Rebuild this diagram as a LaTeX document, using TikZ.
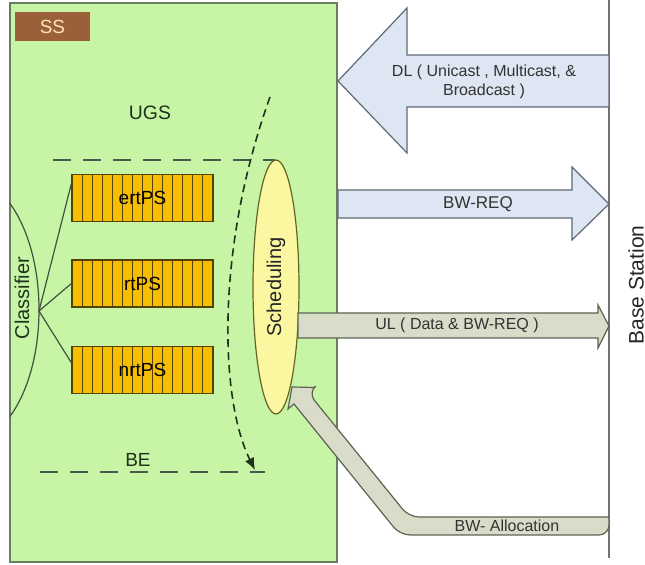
\documentclass[tikz,border=0pt]{standalone}
\usepackage{fontspec}
\setmainfont{Liberation Sans}
\usetikzlibrary{calc,arrows.meta,shapes.geometric}

\definecolor{ssgreen}{RGB}{200,245,165}
\definecolor{ssedge}{RGB}{105,125,95}
\definecolor{ssbrown}{RGB}{153,96,58}
\definecolor{sstext}{RGB}{255,228,185}
\definecolor{qgold}{RGB}{247,190,0}
\definecolor{qline}{RGB}{85,65,0}
\definecolor{schedfill}{RGB}{250,247,160}
\definecolor{schededge}{RGB}{100,100,40}
\definecolor{dlblue}{RGB}{221,230,242}
\definecolor{dledge}{RGB}{95,105,120}
\definecolor{ulgray}{RGB}{217,220,201}
\definecolor{uledge}{RGB}{90,100,80}
\definecolor{txtdark}{RGB}{30,50,30}

\begin{document}
\begin{tikzpicture}[x=0.5pt,y=-0.5pt,line width=0.6pt,
  qbox/.style={draw=qline,fill=qgold,minimum width=70.5pt,minimum height=23.5pt,inner sep=0pt,
    font=\fontsize{9.5}{11}\selectfont,
    path picture={\foreach \i in {1,...,13}
      \draw[qline,line width=0.45pt] ($(path picture bounding box.north west)!\i/14!(path picture bounding box.north east)$)
        -- ($(path picture bounding box.south west)!\i/14!(path picture bounding box.south east)$);}},
  lvl/.style={draw=txtdark!80,line width=0.8pt,dash pattern=on 9pt off 6pt},
  dlarrow/.style={draw=dledge,fill=dlblue},
  ularrow/.style={draw=uledge,fill=ulgray},
  lbl/.style={font=\fontsize{8}{9.5}\selectfont,text=black!80}]
  \useasboundingbox (0,0) rectangle (645,565);
  % subscriber station
  \fill[ssgreen] (10,3) rectangle (337,562);
  \draw[ssedge,line width=0.9pt] (10,3) rectangle (337,562);
  \node[fill=ssbrown,minimum width=37.5pt,minimum height=14.5pt,inner sep=0pt,
    text=sstext,font=\fontsize{9.5}{11}\selectfont] (ss) at (52.5,26.5) {SS};
  \node[text=txtdark,font=\fontsize{9.7}{11}\selectfont] (ugs) at (150,113) {UGS};
  \draw[lvl] (53,160) -- (275,160);
  \draw[lvl] (40,472) -- (265,472);
  \node[text=txtdark,font=\fontsize{9.5}{11}\selectfont] (be) at (138,460) {BE};
  % queues
  \node[qbox] (ertps) at (142.5,198) {ertPS};
  \node[qbox] (rtps) at (142.5,283.5) {rtPS};
  \node[qbox] (nrtps) at (142.5,370) {nrtPS};
  % classifier
  \begin{scope}
    \clip (10,3) rectangle (337,562);
    \draw[txtdark!85] (-32,310) ellipse [x radius=71,y radius=132];
  \end{scope}
  \coordinate (cls) at (39,311);
  \node[rotate=90,text=txtdark,font=\fontsize{10}{12}\selectfont] (classifier) at (22,298) {Classifier};
  \draw[txtdark!85] (cls) -- ($(ertps.north west)!0.2!(ertps.south west)$);
  \draw[txtdark!85] (cls) -- (rtps.west);
  \draw[txtdark!85] (cls) -- ($(nrtps.north west)!0.35!(nrtps.south west)$);
  % scheduler
  \node[ellipse,rotate=90,draw=schededge,fill=schedfill,minimum width=127pt,minimum height=23pt,
    inner sep=0pt,text=black!85,font=\fontsize{10}{12}\selectfont] (sched) at (276,287) {Scheduling};
  \coordinate (sweep) at (270,97);
  \coordinate (sweepend) at (255,470);
  \draw[txtdark,line width=0.8pt,dash pattern=on 4pt off 2.5pt,-{Latex[length=6pt,width=5pt]}]
    (sweep) .. controls (215,250) and (220,400) .. (sweepend);
  % base station
  \draw[black!55,line width=0.8pt] (609,0) -- (609,558);
  \node[rotate=90,font=\fontsize{10.5}{12}\selectfont,text=black!85] (bs) at (636,285) {Base Station};
  % links
  \draw[dlarrow] (609,55) -- (407,55) -- (407,8) -- (338,81) -- (407,153) -- (407,107) -- (609,107) -- cycle;
  \node[lbl,align=center] (dl) at (484,82) {DL ( Unicast , Multicast, \&\\Broadcast )};
  \draw[dlarrow] (338,190) -- (572,190) -- (572,167) -- (609,204) -- (572,240) -- (572,218) -- (338,218) -- cycle;
  \node[lbl,font=\fontsize{8.5}{10}\selectfont] (bwreq) at (478,204) {BW-REQ};
  \draw[ularrow] (298,313) -- (598,313) -- (598,305) -- (609,326) -- (598,348) -- (598,338) -- (298,338) -- cycle;
  \node[lbl] (ul) at (457,325) {UL ( Data \& BW-REQ )};
  \draw[ularrow,rounded corners=5pt] (609,517) -- (409,517) -- (308,392.5)
    [sharp corners] -- (314,387.5) -- (292,387) -- (288,409) -- (294,404)
    [rounded corners=5pt] -- (400,535) -- (609,535) [sharp corners] -- cycle;
  \node[lbl] (bwalloc) at (507,526) {BW- Allocation};
\end{tikzpicture}
\end{document}
